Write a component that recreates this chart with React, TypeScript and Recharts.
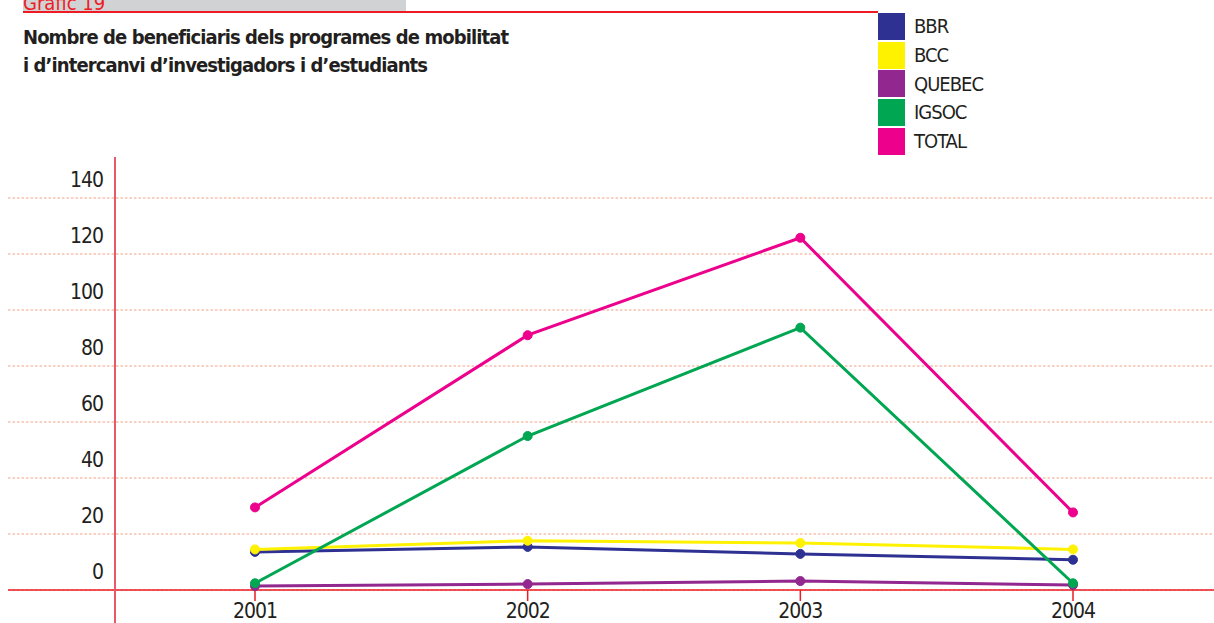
import { LineChart, Line, XAxis, YAxis, CartesianGrid, Legend } from 'recharts'

// Nombre de beneficiaris per programa (Gràfic 19)
const years = ['2001', '2002', '2003', '2004']
const bbr = [13.6, 15.4, 12.9, 10.8]
const bcc = [14.5, 17.6, 16.8, 14.5]
const quebec = [1.4, 2.1, 3.2, 1.8]
const igsoc = [2.4, 55, 93.7, 2.4]
const total = [29.5, 91, 125.8, 27.7]
const yTicks = [0, 20, 40, 60, 80, 100, 120, 140]

const series = [
  { key: 'BBR', color: '#2e3192', values: bbr },
  { key: 'BCC', color: '#fff200', values: bcc },
  { key: 'QUEBEC', color: '#92278f', values: quebec },
  { key: 'IGSOC', color: '#00a651', values: igsoc },
  { key: 'TOTAL', color: '#ec008c', values: total },
]

const data = years.map((year, i) => {
  const row: Record<string, string | number> = { year }
  series.forEach(s => { row[s.key] = s.values[i] })
  return row
})

const FONT = '"DejaVu Sans Condensed", "DejaVu Sans", sans-serif'
const W = 1214
const H = 623
const PLOT_LEFT = 115
const PLOT_TOP = 156
const PLOT_BOTTOM = 590

const textStyle = { fontStretch: 'condensed' as const, letterSpacing: '-1px' }

const YTick = ({ x, y, payload }: any) => (
  <text x={x} y={y - 18} textAnchor="end" dominantBaseline="central" style={textStyle}
    fontFamily={FONT} fontSize={21} fill="#231f20">{payload.value}</text>
)

const XTick = ({ x, y, payload }: any) => (
  <text x={x} y={y + 10} textAnchor="middle" dominantBaseline="central" style={textStyle}
    fontFamily={FONT} fontSize={21} fill="#231f20">{payload.value}</text>
)

const GridLine = (p: any) =>
  p.y1 <= PLOT_TOP + 1 ? <g key={`g-${p.y1}`} /> : (
    <line key={`g-${p.y1}`} x1={8} y1={p.y1} x2={p.x2} y2={p.y2}
      stroke="#f5a086" strokeWidth={1.2} strokeDasharray="2.5 2" />
  )

const LegendBox = ({ payload }: any) => (
  <div style={{ fontFamily: FONT, fontStretch: 'condensed' }}>
    {(payload || []).map((item: any) => (
      <div key={item.value} style={{ display: 'flex', alignItems: 'center', height: 28.7 }}>
        <div style={{ width: 27, height: 27, background: item.color }} />
        <span style={{ marginLeft: 9, fontSize: 20, letterSpacing: '-1px', color: '#231f20', lineHeight: '28px' }}>{item.value}</span>
      </div>
    ))}
  </div>
)

const order = (item: any) => series.findIndex(s => s.key === item.value)

export default function App() {
  return (
    <div style={{ position: 'absolute', left: 0, top: 0, width: W, height: H, overflow: 'hidden', background: '#fff' }}>
      <div style={{ position: 'absolute', left: 23, top: 0, width: 383, height: 11, background: '#d1d2d4' }} />
      <div style={{ position: 'absolute', left: 23, top: -7, fontFamily: FONT, fontStretch: 'condensed', fontSize: 20, lineHeight: '20px', color: '#ed1c24' }}>
        Gràfic 19
      </div>
      <div style={{ position: 'absolute', left: 23, top: 11, width: 855, height: 1.5, background: '#ed1c24' }} />
      <div style={{ position: 'absolute', left: 23, top: 24, fontFamily: FONT, fontStretch: 'condensed', fontWeight: 'bold', fontSize: 20, letterSpacing: '-0.9px', lineHeight: '27.7px', color: '#231f20' }}>
        Nombre de beneficiaris dels programes de mobilitat<br />
        i d’intercanvi d’investigadors i d’estudiants
      </div>
      <LineChart width={W} height={H} data={data}
        margin={{ top: PLOT_TOP, right: 0, bottom: 0, left: 0 }}>
        <CartesianGrid vertical={false} horizontal={GridLine} />
        <XAxis dataKey="year" axisLine={false} tickLine={{ stroke: '#ed1c24', strokeWidth: 1.5 }}
          tickSize={11} tickMargin={0} height={H - PLOT_BOTTOM}
          padding={{ left: 140, right: 141 }} tick={XTick} interval={0} />
        <YAxis domain={[0, 155]} ticks={yTicks} width={PLOT_LEFT} axisLine={false}
          tickLine={false} tickSize={0} tickMargin={12} tick={YTick} />
        <Legend layout="horizontal" verticalAlign="middle" align="center"
          content={LegendBox} itemSorter={order}
          wrapperStyle={{ position: 'absolute', left: 878, top: 12, width: 200 }} />
        <line x1={8} y1={PLOT_BOTTOM} x2={W} y2={PLOT_BOTTOM} stroke="#ed1c24" strokeWidth={1.5} />
        <line x1={PLOT_LEFT} y1={PLOT_TOP + 1} x2={PLOT_LEFT} y2={H} stroke="#e85a68" strokeWidth={2} />
        {series.map(s => (
          <Line key={s.key} dataKey={s.key} name={s.key} type="linear" stroke={s.color}
            strokeWidth={3} dot={{ r: 4.5, fill: s.color, stroke: s.color, strokeWidth: 1 }}
            activeDot={false} isAnimationActive={false} />
        ))}
      </LineChart>
    </div>
  )
}
